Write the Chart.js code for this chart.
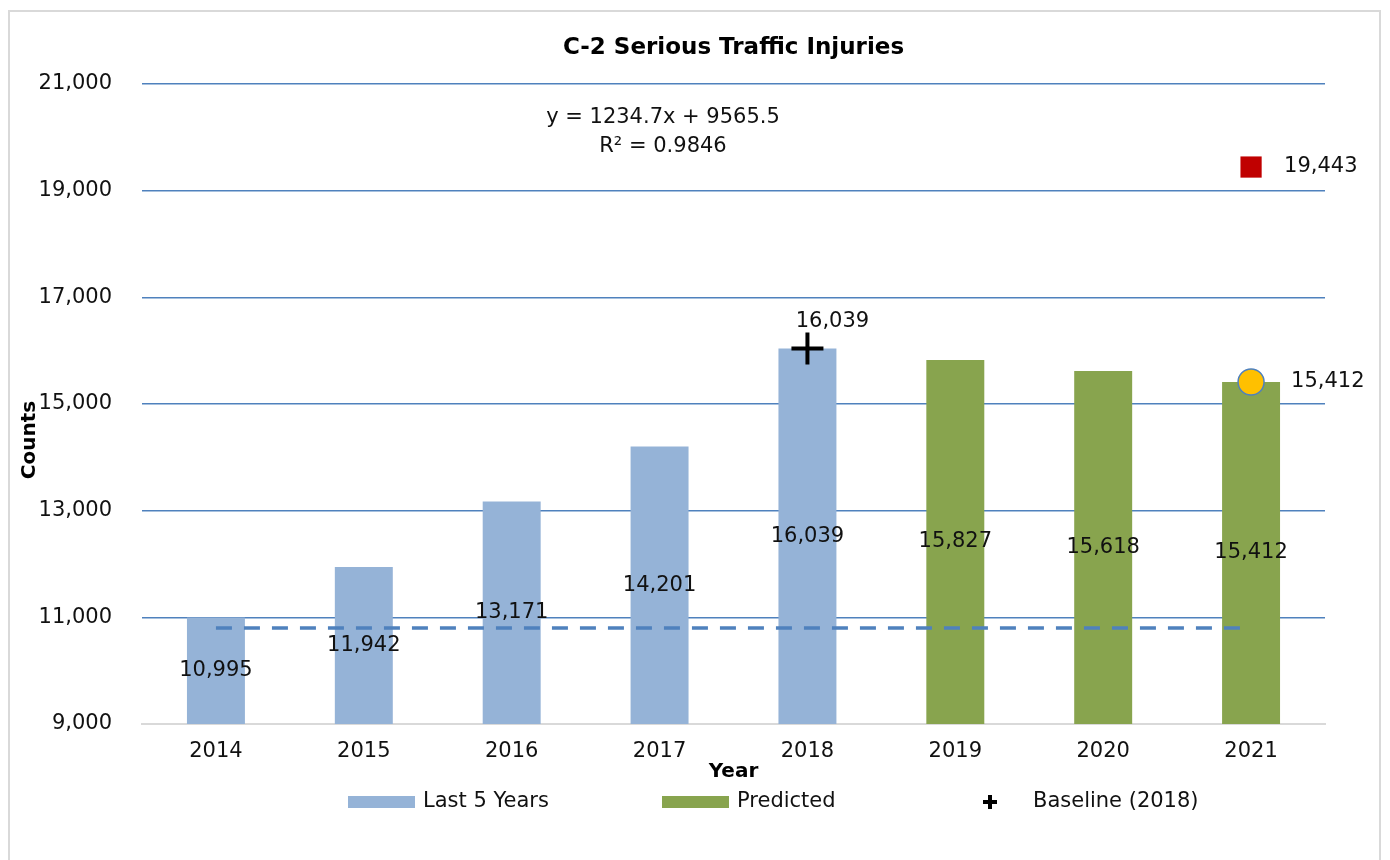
<!DOCTYPE html>
<html>
<head>
<meta charset="utf-8">
<title>C-2 Serious Traffic Injuries</title>
<script src="https://cdn.jsdelivr.net/npm/chart.js@4"></script>
<style>
    html, body { margin: 0; padding: 0; background: #fff; }
    #wrap { position: relative; width: 1390px; height: 860px; }
    #frame { position: absolute; left: 8px; top: 10px; width: 1373px; height: 860px; border: 2px solid #d9d9d9; border-bottom: none; box-sizing: border-box; }
    #chart { position: absolute; left: 0; top: 0; }
</style>
</head>
<body>
<div id="wrap">
    <div id="frame"></div>
    <canvas id="chart" width="1390" height="860"></canvas>
</div>
<script>
    "use strict";

    // Data
    const years = ["2014", "2015", "2016", "2017", "2018", "2019", "2020", "2021"];
    const lastFiveYears = [10995, 11942, 13171, 14201, 16039, null, null, null];
    const predicted = [null, null, null, null, null, 15827, 15618, 15412];
    const baseline2018 = [null, null, null, null, 16039, null, null, null];
    const targetLine = [10800, 10800, 10800, 10800, 10800, 10800, 10800, 10800];
    const target2021 = [null, null, null, null, null, null, null, 15412];
    const trend2021 = [null, null, null, null, null, null, null, 19443];
    const trendLabel = ["y = 1234.7x + 9565.5", "R\u00b2 = 0.9846"];
    const yTicks = { min: 9000, max: 21000, step: 2000 };

    const FONT = "'DejaVu Sans', sans-serif";
    const BLUE = "#95b3d7";
    const GREEN = "#88a44e";
    const GRID = "#4f81bd";

    function fmt(v) {
        return v.toLocaleString("en-US");
    }

    // Data labels, trendline text, axis title and legend drawn on top
    const extras = {
        id: "extras",
        afterDatasetsDraw(chart) {
            const ctx = chart.ctx;
            const floor = chart.scales.y.getPixelForValue(yTicks.min);
            ctx.save();
            ctx.font = "21px " + FONT;
            ctx.fillStyle = "#111";
            ctx.textBaseline = "middle";
            chart.data.datasets.forEach((ds, i) => {
                if (!ds.labelPos) return;
                const meta = chart.getDatasetMeta(i);
                meta.data.forEach((el, j) => {
                    const v = ds.data[j];
                    if (v === null) return;
                    if (ds.labelPos === "center") {
                        ctx.textAlign = "center";
                        ctx.fillText(fmt(v), el.x, (el.y + floor) / 2);
                    } else if (ds.labelPos === "above") {
                        ctx.textAlign = "center";
                        ctx.fillText(fmt(v), el.x + 25, el.y - 27);
                    } else if (ds.labelPos === "right") {
                        ctx.textAlign = "left";
                        ctx.fillText(fmt(v), el.x + ds.labelGap, el.y);
                    }
                });
            });

            // trendline equation
            ctx.textAlign = "center";
            ctx.fillText(trendLabel[0], 663, 118);
            ctx.fillText(trendLabel[1], 663, 147);
            ctx.restore();
        },
        afterDraw(chart) {
            const ctx = chart.ctx;

            // y axis title
            ctx.save();
            ctx.font = "bold 20px " + FONT;
            ctx.fillStyle = "#000";
            ctx.textAlign = "center";
            ctx.textBaseline = "middle";
            ctx.translate(30, 440);
            ctx.rotate(-Math.PI / 2);
            ctx.fillText("Counts", 0, 0);
            ctx.restore();

            // legend
            ctx.save();
            const ly = 802;
            ctx.fillStyle = BLUE;
            ctx.fillRect(348, ly - 6, 67, 12);
            ctx.fillStyle = GREEN;
            ctx.fillRect(662, ly - 6, 67, 12);
            ctx.fillStyle = "#000";
            ctx.fillRect(988, ly - 7, 4, 14);
            ctx.fillRect(983, ly - 2, 14, 4);
            ctx.font = "21px " + FONT;
            ctx.fillStyle = "#111";
            ctx.textAlign = "left";
            ctx.textBaseline = "middle";
            ctx.fillText("Last 5 Years", 423, ly);
            ctx.fillText("Predicted", 737, ly);
            ctx.fillText("Baseline (2018)", 1033, ly);
            ctx.restore();
        }
    };

    const ctx = document.getElementById("chart").getContext("2d");
    const myChart = new Chart(ctx, {
        data: {
            labels: years,
            datasets: [
                {
                    type: "line",
                    label: "Target",
                    data: targetLine,
                    borderColor: GRID,
                    borderWidth: 3.5,
                    borderDash: [16, 12],
                    pointRadius: 0,
                    fill: false,
                    order: 1
                },
                {
                    type: "line",
                    label: "Baseline (2018)",
                    data: baseline2018,
                    showLine: false,
                    pointStyle: "cross",
                    pointRadius: 16,
                    pointBorderWidth: 4,
                    pointBorderColor: "#000",
                    labelPos: "above",
                    order: 0
                },
                {
                    type: "line",
                    label: "2021 Target",
                    data: target2021,
                    showLine: false,
                    pointStyle: "circle",
                    pointRadius: 13,
                    pointBackgroundColor: "#ffc000",
                    pointBorderColor: GRID,
                    pointBorderWidth: 1.5,
                    labelPos: "right",
                    labelGap: 40,
                    order: 0
                },
                {
                    type: "line",
                    label: "2021 Trend",
                    data: trend2021,
                    showLine: false,
                    pointStyle: "rect",
                    pointRadius: 15,
                    pointBackgroundColor: "#c00000",
                    pointBorderColor: "#c00000",
                    pointBorderWidth: 0,
                    labelPos: "right",
                    labelGap: 33,
                    order: 0
                },
                {
                    type: "bar",
                    label: "Last 5 Years",
                    data: lastFiveYears,
                    backgroundColor: BLUE,
                    grouped: false,
                    barPercentage: 0.392,
                    categoryPercentage: 1,
                    labelPos: "center",
                    order: 2
                },
                {
                    type: "bar",
                    label: "Predicted",
                    data: predicted,
                    backgroundColor: GREEN,
                    grouped: false,
                    barPercentage: 0.392,
                    categoryPercentage: 1,
                    labelPos: "center",
                    order: 2
                }
            ]
        },
        options: {
            responsive: false,
            animation: false,
            layout: {
                padding: { left: 0, right: 65, top: 0, bottom: 76 }
            },
            plugins: {
                legend: { display: false },
                tooltip: { enabled: false },
                title: {
                    display: true,
                    fullSize: false,
                    text: "C-2 Serious Traffic Injuries",
                    color: "#000",
                    font: { family: FONT, size: 23, weight: "bold", lineHeight: 1.2 },
                    padding: { top: 34, bottom: 22.4 }
                }
            },
            scales: {
                x: {
                    grid: { display: false, drawTicks: false },
                    border: { display: true, color: "#d9d9d9", width: 2 },
                    ticks: {
                        color: "#111",
                        font: { family: FONT, size: 21 },
                        padding: 15,
                        maxRotation: 0
                    },
                    title: {
                        display: true,
                        text: "Year",
                        color: "#000",
                        font: { family: FONT, size: 20, weight: "bold", lineHeight: 1.2 },
                        padding: 0
                    },
                    afterFit: function (scale) {
                        scale.height = 60;
                    }
                },
                y: {
                    min: yTicks.min,
                    max: yTicks.max,
                    border: { display: false },
                    grid: {
                        drawTicks: false,
                        lineWidth: 1.5,
                        color: function (c) {
                            return c.tick && c.tick.value === yTicks.min ? "rgba(0,0,0,0)" : GRID;
                        }
                    },
                    ticks: {
                        stepSize: yTicks.step,
                        color: "#111",
                        font: { family: FONT, size: 21 },
                        padding: 30,
                        callback: function (v) { return fmt(v); }
                    },
                    afterFit: function (scale) {
                        scale.width = 142;
                    }
                }
            }
        },
        plugins: [extras]
    });
</script>
</body>
</html>
